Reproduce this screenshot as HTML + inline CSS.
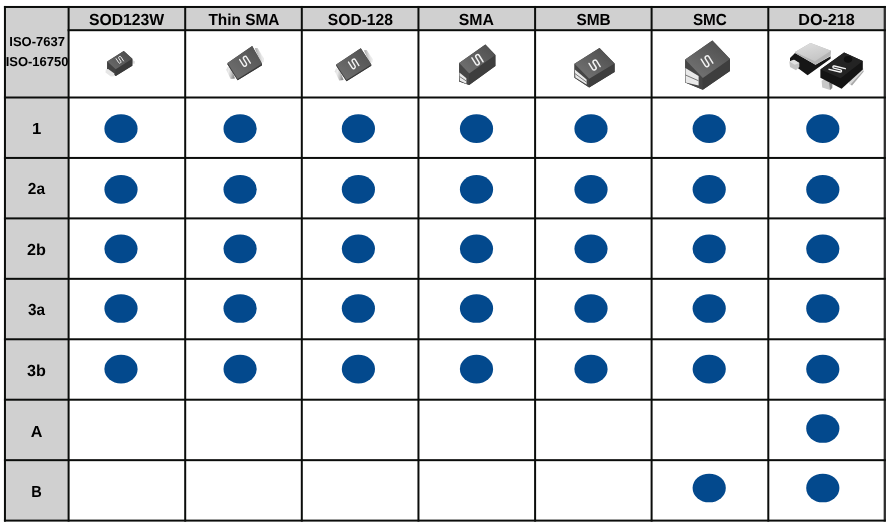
<!DOCTYPE html>
<html><head><meta charset="utf-8"><title>Package table</title><style>
html,body{margin:0;padding:0;background:#fff;width:892px;height:528px;overflow:hidden}
svg{display:block}
</style></head><body>
<svg width="892" height="528" viewBox="0 0 892 528">
<rect x="0" y="0" width="892" height="528" fill="#fff"/>
<rect x="4.95" y="6.97" width="879.85" height="23.23" fill="#d0d0d0"/>
<rect x="4.95" y="6.97" width="63.65" height="513.63" fill="#d0d0d0"/>
<ellipse cx="121" cy="128.7" rx="16.6" ry="14.35" fill="#03498d"/>
<ellipse cx="240.1" cy="128.7" rx="16.6" ry="14.35" fill="#03498d"/>
<ellipse cx="358.4" cy="128.7" rx="16.6" ry="14.35" fill="#03498d"/>
<ellipse cx="476.5" cy="128.7" rx="16.6" ry="14.35" fill="#03498d"/>
<ellipse cx="591" cy="128.7" rx="16.6" ry="14.35" fill="#03498d"/>
<ellipse cx="709.2" cy="128.7" rx="16.6" ry="14.35" fill="#03498d"/>
<ellipse cx="822.8" cy="128.7" rx="16.6" ry="14.35" fill="#03498d"/>
<ellipse cx="121" cy="189.4" rx="16.6" ry="14.35" fill="#03498d"/>
<ellipse cx="240.1" cy="189.4" rx="16.6" ry="14.35" fill="#03498d"/>
<ellipse cx="358.4" cy="189.4" rx="16.6" ry="14.35" fill="#03498d"/>
<ellipse cx="476.5" cy="189.4" rx="16.6" ry="14.35" fill="#03498d"/>
<ellipse cx="591" cy="189.4" rx="16.6" ry="14.35" fill="#03498d"/>
<ellipse cx="709.2" cy="189.4" rx="16.6" ry="14.35" fill="#03498d"/>
<ellipse cx="822.8" cy="189.4" rx="16.6" ry="14.35" fill="#03498d"/>
<ellipse cx="121" cy="248.8" rx="16.6" ry="14.35" fill="#03498d"/>
<ellipse cx="240.1" cy="248.8" rx="16.6" ry="14.35" fill="#03498d"/>
<ellipse cx="358.4" cy="248.8" rx="16.6" ry="14.35" fill="#03498d"/>
<ellipse cx="476.5" cy="248.8" rx="16.6" ry="14.35" fill="#03498d"/>
<ellipse cx="591" cy="248.8" rx="16.6" ry="14.35" fill="#03498d"/>
<ellipse cx="709.2" cy="248.8" rx="16.6" ry="14.35" fill="#03498d"/>
<ellipse cx="822.8" cy="248.8" rx="16.6" ry="14.35" fill="#03498d"/>
<ellipse cx="121" cy="308.5" rx="16.6" ry="14.35" fill="#03498d"/>
<ellipse cx="240.1" cy="308.5" rx="16.6" ry="14.35" fill="#03498d"/>
<ellipse cx="358.4" cy="308.5" rx="16.6" ry="14.35" fill="#03498d"/>
<ellipse cx="476.5" cy="308.5" rx="16.6" ry="14.35" fill="#03498d"/>
<ellipse cx="591" cy="308.5" rx="16.6" ry="14.35" fill="#03498d"/>
<ellipse cx="709.2" cy="308.5" rx="16.6" ry="14.35" fill="#03498d"/>
<ellipse cx="822.8" cy="308.5" rx="16.6" ry="14.35" fill="#03498d"/>
<ellipse cx="121" cy="369.05" rx="16.6" ry="14.35" fill="#03498d"/>
<ellipse cx="240.1" cy="369.05" rx="16.6" ry="14.35" fill="#03498d"/>
<ellipse cx="358.4" cy="369.05" rx="16.6" ry="14.35" fill="#03498d"/>
<ellipse cx="476.5" cy="369.05" rx="16.6" ry="14.35" fill="#03498d"/>
<ellipse cx="591" cy="369.05" rx="16.6" ry="14.35" fill="#03498d"/>
<ellipse cx="709.2" cy="369.05" rx="16.6" ry="14.35" fill="#03498d"/>
<ellipse cx="822.8" cy="369.05" rx="16.6" ry="14.35" fill="#03498d"/>
<ellipse cx="822.8" cy="428.5" rx="16.6" ry="14.35" fill="#03498d"/>
<ellipse cx="709.2" cy="488" rx="16.6" ry="14.35" fill="#03498d"/>
<ellipse cx="822.8" cy="488" rx="16.6" ry="14.35" fill="#03498d"/>
<g font-family="&quot;Liberation Sans&quot;, Arial, sans-serif" font-weight="bold" fill="#000" text-anchor="middle" text-rendering="geometricPrecision">
<text font-size="16" transform="translate(126.53 24.9) scale(0.984 1)">SOD123W</text>
<text font-size="16" transform="translate(243.93 24.9) scale(0.964 1)">Thin SMA</text>
<text font-size="16" transform="translate(360.37 24.9) scale(0.976 1)">SOD-128</text>
<text font-size="16" transform="translate(476.41 24.9) scale(0.990 1)">SMA</text>
<text font-size="16" transform="translate(593.63 24.9) scale(0.964 1)">SMB</text>
<text font-size="16" transform="translate(709.85 24.9) scale(0.953 1)">SMC</text>
<text font-size="16" transform="translate(826.53 24.9) scale(1.010 1)">DO-218</text>
<text font-size="13" transform="translate(37.09 46.0) scale(0.999 1)">ISO-7637</text>
<text font-size="13" transform="translate(37.04 65.7) scale(0.999 1)">ISO-16750</text>
<text font-size="16" transform="translate(36.71 133.7) scale(1.043 1)">1</text>
<text font-size="16" transform="translate(36.38 194.2) scale(0.965 1)">2a</text>
<text font-size="16" transform="translate(36.47 254.9) scale(1.010 1)">2b</text>
<text font-size="16" transform="translate(36.38 314.9) scale(0.955 1)">3a</text>
<text font-size="16" transform="translate(36.49 375.9) scale(1.007 1)">3b</text>
<text font-size="16" transform="translate(36.68 437.1) scale(1.010 1)">A</text>
<text font-size="16" transform="translate(36.56 497.3) scale(0.911 1)">B</text>
</g>
<rect x="3.95" y="5.97" width="2.0" height="515.63" fill="#0b0d0b"/>
<rect x="67.60" y="5.97" width="2.0" height="515.63" fill="#0b0d0b"/>
<rect x="184.20" y="5.97" width="2.0" height="515.63" fill="#0b0d0b"/>
<rect x="300.80" y="5.97" width="2.0" height="515.63" fill="#0b0d0b"/>
<rect x="417.45" y="5.97" width="2.0" height="515.63" fill="#0b0d0b"/>
<rect x="534.10" y="5.97" width="2.0" height="515.63" fill="#0b0d0b"/>
<rect x="650.60" y="5.97" width="2.0" height="515.63" fill="#0b0d0b"/>
<rect x="767.30" y="5.97" width="2.0" height="515.63" fill="#0b0d0b"/>
<rect x="883.65" y="5.97" width="2.3" height="515.63" fill="#2e2e2e"/>
<rect x="3.95" y="5.97" width="881.85" height="2" fill="#0b0d0b"/>
<rect x="67.60" y="29.20" width="818.20" height="2" fill="#0b0d0b"/>
<rect x="3.95" y="96.50" width="881.85" height="2" fill="#0b0d0b"/>
<rect x="3.95" y="156.94" width="881.85" height="2" fill="#0b0d0b"/>
<rect x="3.95" y="217.39" width="881.85" height="2" fill="#0b0d0b"/>
<rect x="3.95" y="277.83" width="881.85" height="2" fill="#0b0d0b"/>
<rect x="3.95" y="338.27" width="881.85" height="2" fill="#0b0d0b"/>
<rect x="3.95" y="398.71" width="881.85" height="2" fill="#0b0d0b"/>
<rect x="3.95" y="459.16" width="881.85" height="2" fill="#0b0d0b"/>
<rect x="3.95" y="519.60" width="881.85" height="2" fill="#0b0d0b"/>
<linearGradient id="tabL" x1="0" y1="0" x2="1" y2="0.3"><stop offset="0" stop-color="#d8d8d8"/><stop offset="0.35" stop-color="#ececec"/><stop offset="0.7" stop-color="#c4c4c4"/><stop offset="1" stop-color="#8c8c8c"/></linearGradient>
<linearGradient id="tabR" x1="1" y1="0" x2="0" y2="0.3"><stop offset="0" stop-color="#d8d8d8"/><stop offset="0.35" stop-color="#ececec"/><stop offset="0.7" stop-color="#c4c4c4"/><stop offset="1" stop-color="#8c8c8c"/></linearGradient>
<polygon points="131.00,59.30 134.80,61.20 134.70,63.80 131.50,63.40" fill="#dcdcdc" />
<polygon points="107.20,61.40 123.80,50.90 132.30,58.80 132.30,65.80 115.70,76.10 107.20,68.90" fill="#3a3a3a" />
<polygon points="107.20,61.40 115.70,69.30 115.70,76.10 107.20,68.90" fill="#424242" />
<polygon points="115.70,69.30 132.30,58.80 132.30,65.80 115.70,76.10" fill="#3a3a3a" />
<polygon points="105.80,69.60 108.20,69.00 114.40,73.40 114.30,76.30 110.80,76.40 105.50,72.60" fill="#e6e6e6" />
<linearGradient id="pg1" gradientUnits="userSpaceOnUse" x1="123.8" y1="50.9" x2="111.5" y2="65.3"><stop offset="0" stop-color="#4f4f4f"/><stop offset="1" stop-color="#666666"/></linearGradient>
<polygon points="107.20,61.40 123.80,50.90 132.30,58.80 115.70,69.30" fill="url(#pg1)" />
<path d="M-2.50,-3.00V1.75A1.25,1.25 0 0 0 0,1.75V-1.75A1.25,1.25 0 0 1 2.50,-1.75V3.00" transform="translate(119.80,59.80) rotate(-33.0)" fill="none" stroke="#f2f2f2" stroke-width="0.9" stroke-linecap="round" stroke-linejoin="round"/>
<polygon points="230.80,66.60 227.60,67.00 226.20,69.80 230.60,79.00 235.00,78.40" fill="url(#tabL)" />
<polygon points="254.80,48.20 257.60,48.00 263.90,58.60 263.60,62.20 260.50,62.50" fill="url(#tabR)" />
<polygon points="227.60,63.10 252.20,46.00 262.00,63.80 262.00,65.20 237.60,80.30 227.60,64.50" fill="#393939" />
<polygon points="227.60,63.10 237.60,78.90 237.60,80.30 227.60,64.50" fill="#3e3e3e" />
<polygon points="237.60,78.90 262.00,63.80 262.00,65.20 237.60,80.30" fill="#393939" />
<linearGradient id="pg2" gradientUnits="userSpaceOnUse" x1="252.2" y1="46.0" x2="232.6" y2="71.0"><stop offset="0" stop-color="#535353"/><stop offset="1" stop-color="#6c6c6c"/></linearGradient>
<polygon points="227.60,63.10 252.20,46.00 262.00,63.80 237.60,78.90" fill="url(#pg2)" />
<path d="M-3.60,-4.30V2.50A1.80,1.80 0 0 0 0,2.50V-2.50A1.80,1.80 0 0 1 3.60,-2.50V4.30" transform="translate(245.00,61.30) rotate(-32.0)" fill="none" stroke="#f2f2f2" stroke-width="1.4" stroke-linecap="round" stroke-linejoin="round"/>
<polygon points="338.80,68.00 336.00,68.40 334.80,71.20 339.20,80.60 343.60,80.00" fill="url(#tabL)" />
<polygon points="364.00,50.20 366.80,50.00 372.60,59.00 372.30,62.40 369.40,62.80" fill="url(#tabR)" />
<polygon points="336.25,64.50 360.80,48.25 371.25,64.50 371.25,65.80 346.50,81.20 336.25,65.80" fill="#393939" />
<polygon points="336.25,64.50 346.50,79.90 346.50,81.20 336.25,65.80" fill="#3e3e3e" />
<polygon points="346.50,79.90 371.25,64.50 371.25,65.80 346.50,81.20" fill="#393939" />
<linearGradient id="pg3" gradientUnits="userSpaceOnUse" x1="360.8" y1="48.2" x2="341.4" y2="72.2"><stop offset="0" stop-color="#535353"/><stop offset="1" stop-color="#6c6c6c"/></linearGradient>
<polygon points="336.25,64.50 360.80,48.25 371.25,64.50 346.50,79.90" fill="url(#pg3)" />
<path d="M-3.50,-4.20V2.45A1.75,1.75 0 0 0 0,2.45V-2.45A1.75,1.75 0 0 1 3.50,-2.45V4.20" transform="translate(353.70,63.80) rotate(-32.0)" fill="none" stroke="#f2f2f2" stroke-width="1.4" stroke-linecap="round" stroke-linejoin="round"/>
<polygon points="459.20,63.00 485.40,44.50 495.40,55.00 495.40,66.00 469.20,85.00 459.20,81.50" fill="#3e3e3e" />
<polygon points="459.20,63.00 469.20,73.50 469.20,85.00 459.20,81.50" fill="#464646" />
<polygon points="469.20,73.50 495.40,55.00 495.40,66.00 469.20,85.00" fill="#3e3e3e" />
<polygon points="459.40,72.40 466.40,78.20 466.40,83.80 459.80,80.80" fill="#e9e9e9" />
<line x1="459.6" y1="76.5" x2="466.3" y2="81.0" stroke="#6a6a6a" stroke-width="0.9"/>
<linearGradient id="pg4" gradientUnits="userSpaceOnUse" x1="485.4" y1="44.5" x2="464.2" y2="68.2"><stop offset="0" stop-color="#525252"/><stop offset="1" stop-color="#6e6e6e"/></linearGradient>
<polygon points="459.20,63.00 485.40,44.50 495.40,55.00 469.20,73.50" fill="url(#pg4)" />
<path d="M-3.70,-4.60V2.75A1.85,1.85 0 0 0 0,2.75V-2.75A1.85,1.85 0 0 1 3.70,-2.75V4.60" transform="translate(477.50,59.80) rotate(-32.0)" fill="none" stroke="#f2f2f2" stroke-width="1.5" stroke-linecap="round" stroke-linejoin="round"/>
<polygon points="574.50,63.70 599.50,47.90 614.60,63.60 614.60,72.00 589.20,87.60 574.50,77.70" fill="#3e3e3e" />
<polygon points="574.50,63.70 589.20,78.80 589.20,87.60 574.50,77.70" fill="#464646" />
<polygon points="589.20,78.80 614.60,63.60 614.60,72.00 589.20,87.60" fill="#3e3e3e" />
<polygon points="574.80,69.60 586.60,79.50 586.60,84.60 575.40,77.60" fill="#e9e9e9" />
<line x1="575.0" y1="73.6" x2="586.6" y2="82.2" stroke="#6a6a6a" stroke-width="0.9"/>
<linearGradient id="pg5" gradientUnits="userSpaceOnUse" x1="599.5" y1="47.9" x2="581.9" y2="71.2"><stop offset="0" stop-color="#525252"/><stop offset="1" stop-color="#6e6e6e"/></linearGradient>
<polygon points="574.50,63.70 599.50,47.90 614.60,63.60 589.20,78.80" fill="url(#pg5)" />
<path d="M-3.90,-4.30V2.35A1.95,1.95 0 0 0 0,2.35V-2.35A1.95,1.95 0 0 1 3.90,-2.35V4.30" transform="translate(594.60,65.00) rotate(-32.0)" fill="none" stroke="#f2f2f2" stroke-width="1.5" stroke-linecap="round" stroke-linejoin="round"/>
<polygon points="685.20,59.40 712.40,40.40 730.00,59.10 730.00,71.10 702.80,89.80 685.20,82.40" fill="#3e3e3e" />
<polygon points="685.20,59.40 702.80,78.10 702.80,89.80 685.20,82.40" fill="#464646" />
<polygon points="702.80,78.10 730.00,59.10 730.00,71.10 702.80,89.80" fill="#3e3e3e" />
<polygon points="685.40,67.90 698.60,76.00 698.60,85.60 685.60,82.40" fill="#e9e9e9" />
<line x1="685.5" y1="75.0" x2="698.6" y2="80.8" stroke="#6a6a6a" stroke-width="0.9"/>
<linearGradient id="pg6" gradientUnits="userSpaceOnUse" x1="712.4" y1="40.4" x2="694.0" y2="68.8"><stop offset="0" stop-color="#525252"/><stop offset="1" stop-color="#6e6e6e"/></linearGradient>
<polygon points="685.20,59.40 712.40,40.40 730.00,59.10 702.80,78.10" fill="url(#pg6)" />
<path d="M-3.90,-4.80V2.85A1.95,1.95 0 0 0 0,2.85V-2.85A1.95,1.95 0 0 1 3.90,-2.85V4.80" transform="translate(707.00,61.20) rotate(-32.0)" fill="none" stroke="#f2f2f2" stroke-width="1.5" stroke-linecap="round" stroke-linejoin="round"/>
<polygon points="790.00,58.00 795.00,53.00 815.50,64.80 830.60,56.20 830.60,58.70 807.60,75.30 790.00,62.30" fill="#161616" />
<linearGradient id="pg7" gradientUnits="userSpaceOnUse" x1="810.5" y1="42.9" x2="814.8" y2="60.1"><stop offset="0" stop-color="#dcdcdc"/><stop offset="1" stop-color="#c6c6c6"/></linearGradient>
<polygon points="795.00,51.90 810.50,42.90 831.00,50.80 830.60,55.80 815.50,64.80 795.40,53.30" fill="#b4b4b4" />
<polygon points="795.00,51.90 810.50,42.90 831.00,50.80 814.80,61.20" fill="url(#pg7)" />
<polygon points="789.30,61.50 794.00,59.80 799.30,63.00 799.30,67.00 796.00,70.20 790.00,67.00" fill="#c4c4c4" />
<polygon points="789.30,61.50 794.00,59.80 799.30,63.00 794.80,64.80" fill="#e2e2e2" />
<polygon points="821.60,80.80 824.70,79.00 832.50,81.40 830.10,84.40 830.10,89.90 822.20,87.50" fill="#c8c8c8" />
<polygon points="829.00,83.00 832.50,81.40 832.30,88.00 830.10,89.90" fill="#8a8a8a" />
<polygon points="848.90,80.80 863.20,68.00 863.50,71.70 852.00,85.60 848.90,83.80" fill="#dadada" />
<polygon points="850.50,84.60 863.40,70.60 863.50,71.70 852.00,85.60" fill="#a8a8a8" />
<polygon points="820.40,69.60 844.10,52.40 862.80,61.00 862.80,69.50 841.60,88.70 820.40,77.80" fill="#141414" />
<polygon points="820.40,69.60 844.10,52.40 862.80,61.00 840.60,78.20" fill="#232323" />
<ellipse cx="848.0" cy="59.3" rx="4.2" ry="3.4" fill="#111"/>
<path d="M-2.30,-7.80V3.50A1.15,1.15 0 0 0 0,3.50V-3.50A1.15,1.15 0 0 1 2.30,-3.50V7.80" transform="translate(837.20,69.00) rotate(-76.0)" fill="none" stroke="#f4f4f4" stroke-width="1.45" stroke-linecap="round" stroke-linejoin="round"/>
</svg>
</body></html>
